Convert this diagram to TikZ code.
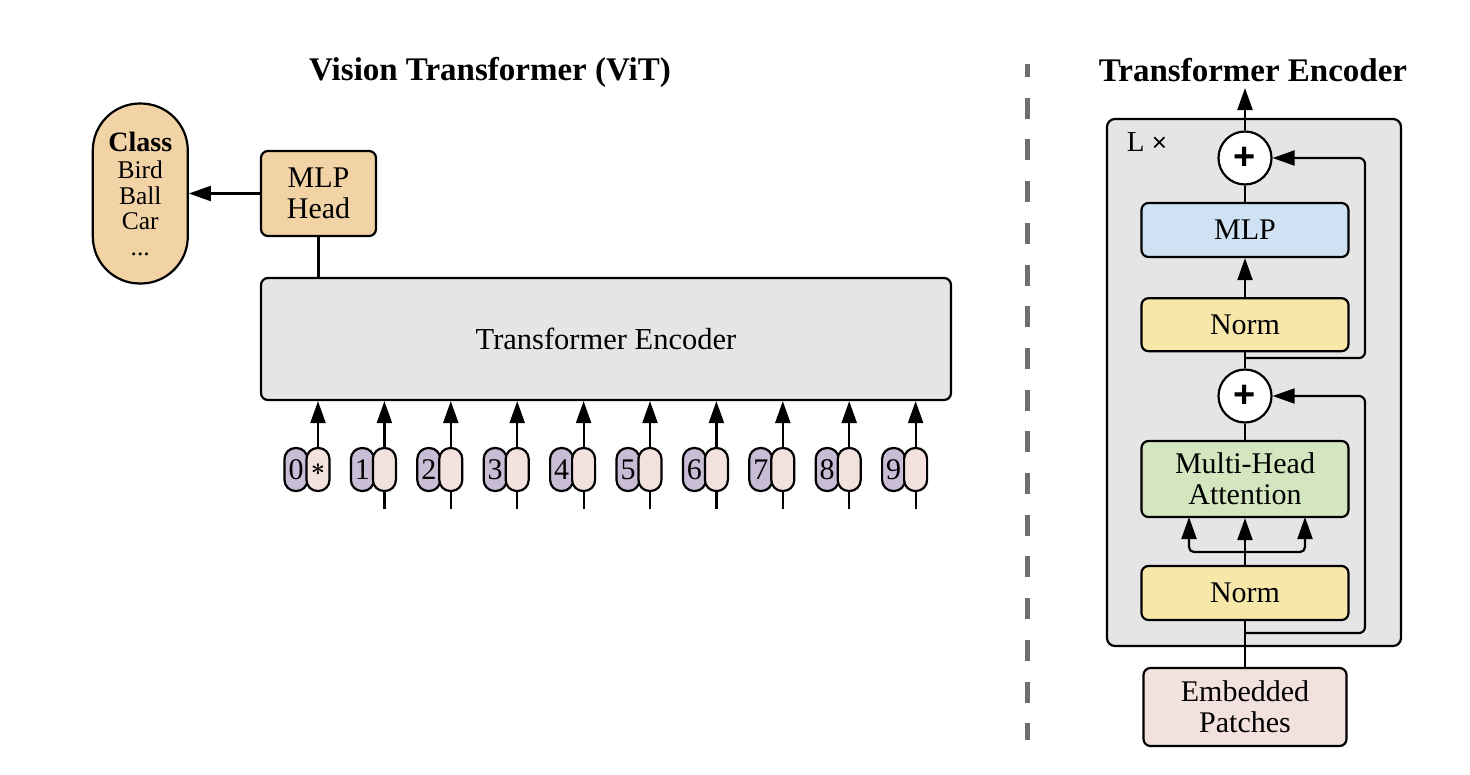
\documentclass[tikz,border=0pt]{standalone}
\usepackage{amsmath}
\usepackage{fontspec}
\setmainfont{Liberation Serif}
\newfontfamily\plusfont{Liberation Sans}
\usetikzlibrary{arrows.meta,positioning,calc}
\definecolor{headtan}{HTML}{F2D3A5}
\definecolor{encgrey}{HTML}{E5E5E5}
\definecolor{pospurple}{HTML}{C9BDD5}
\definecolor{patchpink}{HTML}{F3E1DE}
\definecolor{mlpblue}{HTML}{CFE2F3}
\definecolor{normyellow}{HTML}{F7E8AA}
\definecolor{attngreen}{HTML}{D4E6BF}
\definecolor{dashgrey}{HTML}{6E6E6E}

\begin{document}
\begin{tikzpicture}[x=1pt,y=-1pt,line width=2.2pt,
  blk/.style={draw,rounded corners=7pt,align=center,inner sep=0pt,font=\fontsize{30}{31}\selectfont},
  tok/.style={draw,rounded corners=11pt,minimum width=23pt,minimum height=43pt,inner sep=0pt,font=\fontsize{30}{30}\selectfont},
  addnode/.style={draw,circle,fill=white,minimum size=53pt,inner sep=0pt,font=\fontsize{38}{38}\plusfont\bfseries},
  arr/.style={-{Triangle[length=22pt,width=15pt]}}]
  \useasboundingbox (0,0) rectangle (1470,774);
  % Titles
  \node[font=\fontsize{33}{33}\selectfont\bfseries] (vittitle) at (490,72) {Vision Transformer (ViT)};
  \node[font=\fontsize{33}{33}\selectfont\bfseries] (enctitle) at (1253,70) {Transformer Encoder};
  % MLP head and class output
  \node[blk,fill=headtan,minimum width=115pt,minimum height=85pt] (mlphead) at (318.5,193.5) {MLP\\Head};
  \node[draw,fill=headtan,rounded corners=47pt,minimum width=95pt,minimum height=180pt,inner sep=0pt,align=center,
        font=\fontsize{25.5}{25.5}\selectfont,left=71pt of mlphead] (class)
        {\textbf{\fontsize{28}{25.5}\selectfont Class}\\[2pt]Bird\\Ball\\Car\\...};
  \draw[arr] (mlphead.west) -- (class.east);
  % Encoder
  \node[blk,fill=encgrey,minimum width=690pt,minimum height=122pt,font=\fontsize{30.5}{31}\selectfont] (enc) at (606,339) {Transformer Encoder};
  \draw (mlphead.south) -- (mlphead.south |- enc.north);
  % Position + patch embeddings
  \foreach \i in {0,...,9}{
    \pgfmathsetmacro{\tx}{318+66.4*\i}
    \node[tok,fill=pospurple] (q\i) at (\tx-22,469.5) {\i};
    \node[tok,fill=patchpink] (p\i) at (\tx,469.5) {\ifnum\i=0 $\boldsymbol{\ast}$\fi};
    \draw[arr] (p\i.north) -- (p\i.north |- enc.south);
  }
  \foreach \i in {1,...,9}{
    \coordinate (in\i) at ($(p\i.south)+(0,17)$);
    \draw (in\i) -- (p\i.south);
  }
  % Separator
  \coordinate (septop) at (1027,64);
  \coordinate (sepbot) at (1027,740);
  \draw[dashgrey,line width=5pt,dash pattern=on 21pt off 20.7pt,dash phase=8pt] (septop) -- (sepbot);
  % Encoder block (right)
  \node[draw,fill=encgrey,rounded corners=8pt,minimum width=294pt,minimum height=527pt] (layer) at (1254,382.5) {};
  \node[font=\fontsize{29}{29}\selectfont] (lx) at (1147,142) {L {\plusfont\fontsize{26}{26}\selectfont ×}};
  \node[addnode] (addtop) at (1245,158) {+};
  \node[blk,fill=mlpblue,minimum width=207pt,minimum height=54pt] (mlp) at (1245,230) {MLP};
  \node[blk,fill=normyellow,minimum width=207pt,minimum height=53pt,below=39pt of mlp] (normtop) {Norm};
  \node[addnode] (addbot) at (1245,396) {+};
  \node[blk,fill=attngreen,minimum width=207pt,minimum height=76pt] (mha) at (1245,479) {Multi-Head\\Attention};
  \node[blk,fill=normyellow,minimum width=207pt,minimum height=54pt] (normbot) at (1245,593) {Norm};
  \node[blk,fill=patchpink,minimum width=203pt,minimum height=78pt] (emb) at (1245,707) {\vphantom{g}Embedded\\Patches};
  \coordinate (out) at (1245,88);
  \draw[arr] (addtop.north) -- (out);
  \draw (mlp.north) -- (addtop.south);
  \draw[arr] (normtop.north) -- (mlp.south);
  \draw (addbot.north) -- (normtop.south);
  \draw (mha.north) -- (addbot.south);
  \draw (emb.north) -- (normbot.south);
  % q, k, v
  \coordinate (split) at (1245,552);
  \draw[arr] (normbot.north) -- (mha.south);
  \draw[arr,rounded corners=5pt] (split) -- ++(-56,0) -- ++(0,-35);
  \draw[arr,rounded corners=5pt] (split) -- ++(60,0) -- ++(0,-35);
  % residuals
  \coordinate (skiptop) at (1245,358);
  \coordinate (skipbot) at (1245,633);
  \draw[arr,rounded corners=6pt] (skiptop) -- ++(120,0) |- (addtop.east);
  \draw[arr,rounded corners=6pt] (skipbot) -- ++(120,0) |- (addbot.east);
\end{tikzpicture}
\end{document}
